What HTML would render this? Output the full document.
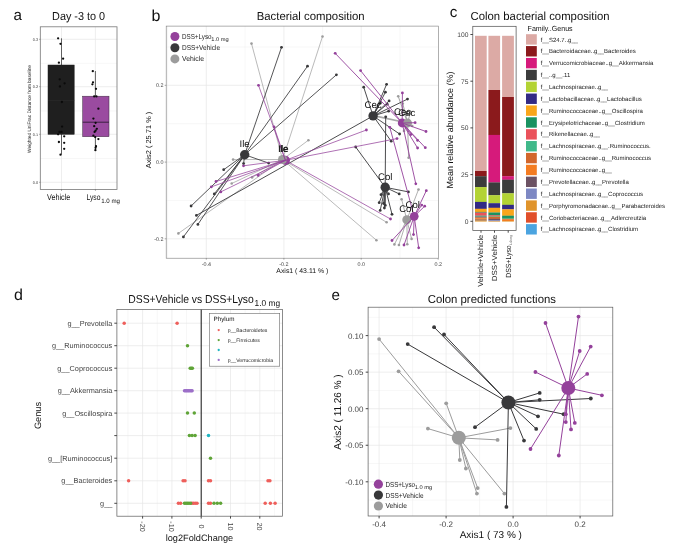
<!DOCTYPE html>
<html><head><meta charset="utf-8"><title>Figure</title>
<style>
html,body{margin:0;padding:0;background:#fff;}
body{width:694px;height:552px;overflow:hidden;font-family:"Liberation Sans",sans-serif;}
svg{display:block;font-family:"Liberation Sans",sans-serif;will-change:transform;}
text{text-rendering:geometricPrecision;}
</style></head><body>
<svg width="694" height="552" viewBox="0 0 694 552">
<rect x="0" y="0" width="694" height="552" fill="#ffffff"/>
<rect x="40.3" y="26.8" width="76.7" height="162.6" fill="#ffffff" stroke="none" stroke-width="1"/>
<line x1="40.3" y1="63.30000000000001" x2="117.0" y2="63.30000000000001" stroke="#efefef" stroke-width="0.5" />
<line x1="40.3" y1="110.90000000000002" x2="117.0" y2="110.90000000000002" stroke="#efefef" stroke-width="0.5" />
<line x1="40.3" y1="158.5" x2="117.0" y2="158.5" stroke="#efefef" stroke-width="0.5" />
<line x1="40.3" y1="39.3" x2="117.0" y2="39.3" stroke="#e6e6e6" stroke-width="0.7" />
<line x1="40.3" y1="86.7" x2="117.0" y2="86.7" stroke="#e6e6e6" stroke-width="0.7" />
<line x1="40.3" y1="134.3" x2="117.0" y2="134.3" stroke="#e6e6e6" stroke-width="0.7" />
<line x1="40.3" y1="182.3" x2="117.0" y2="182.3" stroke="#e6e6e6" stroke-width="0.7" />
<line x1="61.5" y1="26.8" x2="61.5" y2="189.4" stroke="#e6e6e6" stroke-width="0.7" />
<line x1="95.4" y1="26.8" x2="95.4" y2="189.4" stroke="#e6e6e6" stroke-width="0.7" />
<line x1="61.5" y1="38.3" x2="61.5" y2="154.5" stroke="#222" stroke-width="0.7" />
<line x1="95.4" y1="71.0" x2="95.4" y2="150.4" stroke="#222" stroke-width="0.7" />
<rect x="48.0" y="65.0" width="26.2" height="69.3" fill="#1f1f1f" stroke="#1f1f1f" stroke-width="0.5"/>
<rect x="82.7" y="96.2" width="26.3" height="40.5" fill="#9a4ba0" stroke="#3a2a3c" stroke-width="0.5"/>
<line x1="82.7" y1="122.2" x2="109.0" y2="122.2" stroke="#3a2040" stroke-width="1.0" />
<line x1="48.0" y1="100.4" x2="74.2" y2="100.4" stroke="#2e2e2e" stroke-width="0.6" />
<circle cx="58.1" cy="38.3" r="1.15" fill="#0a0a0a"/>
<circle cx="60.5" cy="43.8" r="1.15" fill="#0a0a0a"/>
<circle cx="63.1" cy="58.7" r="1.15" fill="#0a0a0a"/>
<circle cx="58.9" cy="62.7" r="1.15" fill="#0a0a0a"/>
<circle cx="59.7" cy="79.3" r="1.15" fill="#0a0a0a"/>
<circle cx="64.6" cy="83.3" r="1.15" fill="#0a0a0a"/>
<circle cx="59.9" cy="86.5" r="1.15" fill="#0a0a0a"/>
<circle cx="61.9" cy="102" r="1.15" fill="#0a0a0a"/>
<circle cx="62.1" cy="126.6" r="1.15" fill="#0a0a0a"/>
<circle cx="59.5" cy="131.9" r="1.15" fill="#0a0a0a"/>
<circle cx="61.5" cy="131.9" r="1.15" fill="#0a0a0a"/>
<circle cx="58.1" cy="134.3" r="1.15" fill="#0a0a0a"/>
<circle cx="64.2" cy="136.3" r="1.15" fill="#0a0a0a"/>
<circle cx="58.9" cy="142" r="1.15" fill="#0a0a0a"/>
<circle cx="64.2" cy="142.8" r="1.15" fill="#0a0a0a"/>
<circle cx="64.2" cy="148.8" r="1.15" fill="#0a0a0a"/>
<circle cx="60.5" cy="154.7" r="1.15" fill="#0a0a0a"/>
<circle cx="92.8" cy="71.2" r="1.15" fill="#0a0a0a"/>
<circle cx="93" cy="82.3" r="1.15" fill="#0a0a0a"/>
<circle cx="92.4" cy="84.3" r="1.15" fill="#0a0a0a"/>
<circle cx="96" cy="88.8" r="1.15" fill="#0a0a0a"/>
<circle cx="94.2" cy="96.4" r="1.15" fill="#0a0a0a"/>
<circle cx="96.4" cy="96.4" r="1.15" fill="#0a0a0a"/>
<circle cx="98.4" cy="108.7" r="1.15" fill="#0a0a0a"/>
<circle cx="93.4" cy="118.6" r="1.15" fill="#0a0a0a"/>
<circle cx="95.6" cy="122.8" r="1.15" fill="#0a0a0a"/>
<circle cx="94.2" cy="126.2" r="1.15" fill="#0a0a0a"/>
<circle cx="96.8" cy="128.8" r="1.15" fill="#0a0a0a"/>
<circle cx="95.6" cy="130.7" r="1.15" fill="#0a0a0a"/>
<circle cx="94.6" cy="131.9" r="1.15" fill="#0a0a0a"/>
<circle cx="93.4" cy="135.7" r="1.15" fill="#0a0a0a"/>
<circle cx="95.2" cy="137.1" r="1.15" fill="#0a0a0a"/>
<circle cx="98.4" cy="139.1" r="1.15" fill="#0a0a0a"/>
<circle cx="96" cy="146.2" r="1.15" fill="#0a0a0a"/>
<circle cx="95.6" cy="147.8" r="1.15" fill="#0a0a0a"/>
<circle cx="95.4" cy="150.2" r="1.15" fill="#0a0a0a"/>
<rect x="40.3" y="26.8" width="76.7" height="162.6" fill="none" stroke="#777" stroke-width="0.8"/>
<line x1="39.099999999999994" y1="39.3" x2="40.3" y2="39.3" stroke="#555" stroke-width="0.5" />
<text x="38.099999999999994" y="40.599999999999994" font-size="3.8" text-anchor="end" fill="#3a3a3a" >0.3</text>
<line x1="39.099999999999994" y1="86.7" x2="40.3" y2="86.7" stroke="#555" stroke-width="0.5" />
<text x="38.099999999999994" y="88.0" font-size="3.8" text-anchor="end" fill="#3a3a3a" >0.2</text>
<line x1="39.099999999999994" y1="134.3" x2="40.3" y2="134.3" stroke="#555" stroke-width="0.5" />
<text x="38.099999999999994" y="135.60000000000002" font-size="3.8" text-anchor="end" fill="#3a3a3a" >0.1</text>
<line x1="39.099999999999994" y1="182.3" x2="40.3" y2="182.3" stroke="#555" stroke-width="0.5" />
<text x="38.099999999999994" y="183.60000000000002" font-size="3.8" text-anchor="end" fill="#3a3a3a" >0.0</text>
<line x1="61.5" y1="189.4" x2="61.5" y2="190.9" stroke="#555" stroke-width="0.5" />
<line x1="95.4" y1="189.4" x2="95.4" y2="190.9" stroke="#555" stroke-width="0.5" />
<text x="31.2" y="109" font-size="4.9" text-anchor="middle" fill="#222" textLength="88" lengthAdjust="spacingAndGlyphs" transform="rotate(-90 31.2 109)" >Weighted UniFrac Distance from baseline</text>
<text x="13.4" y="20.4" font-size="15.2" text-anchor="start" fill="#111" >a</text>
<text x="78.6" y="20.0" font-size="11.6" text-anchor="middle" fill="#111" textLength="53" lengthAdjust="spacingAndGlyphs" >Day -3 to 0</text>
<text x="58.7" y="200.0" font-size="8.5" text-anchor="middle" fill="#111" textLength="23.4" lengthAdjust="spacingAndGlyphs" >Vehicle</text>
<text x="86.5" y="200.0" font-size="8.5" text-anchor="start" fill="#111" textLength="14.0" lengthAdjust="spacingAndGlyphs" >Lyso</text>
<text x="101.2" y="203.0" font-size="6.3" text-anchor="start" fill="#111" textLength="18.8" lengthAdjust="spacingAndGlyphs" >1.0 mg</text>
<rect x="166.2" y="26.1" width="272.1" height="232.1" fill="#ffffff" stroke="none" stroke-width="1"/>
<line x1="167.6" y1="26.1" x2="167.6" y2="258.2" stroke="#efefef" stroke-width="0.5" />
<line x1="245.1" y1="26.1" x2="245.1" y2="258.2" stroke="#efefef" stroke-width="0.5" />
<line x1="322.6" y1="26.1" x2="322.6" y2="258.2" stroke="#efefef" stroke-width="0.5" />
<line x1="400.0" y1="26.1" x2="400.0" y2="258.2" stroke="#efefef" stroke-width="0.5" />
<line x1="166.2" y1="47.0" x2="438.3" y2="47.0" stroke="#efefef" stroke-width="0.5" />
<line x1="166.2" y1="123.7" x2="438.3" y2="123.7" stroke="#efefef" stroke-width="0.5" />
<line x1="166.2" y1="200.4" x2="438.3" y2="200.4" stroke="#efefef" stroke-width="0.5" />
<line x1="206.3" y1="26.1" x2="206.3" y2="258.2" stroke="#e6e6e6" stroke-width="0.7" />
<line x1="283.9" y1="26.1" x2="283.9" y2="258.2" stroke="#e6e6e6" stroke-width="0.7" />
<line x1="361.2" y1="26.1" x2="361.2" y2="258.2" stroke="#e6e6e6" stroke-width="0.7" />
<line x1="166.2" y1="85.3" x2="438.3" y2="85.3" stroke="#e6e6e6" stroke-width="0.7" />
<line x1="166.2" y1="162.1" x2="438.3" y2="162.1" stroke="#e6e6e6" stroke-width="0.7" />
<line x1="166.2" y1="238.8" x2="438.3" y2="238.8" stroke="#e6e6e6" stroke-width="0.7" />
<line x1="282.6" y1="159.5" x2="233.1" y2="159.6" stroke="#9c9c9c" stroke-width="0.7" />
<line x1="282.6" y1="159.5" x2="252.1" y2="177.5" stroke="#9c9c9c" stroke-width="0.7" />
<line x1="282.6" y1="159.5" x2="231.7" y2="183.5" stroke="#9c9c9c" stroke-width="0.7" />
<line x1="282.6" y1="159.5" x2="178.4" y2="233.4" stroke="#9c9c9c" stroke-width="0.7" />
<line x1="282.6" y1="159.5" x2="251.5" y2="43.6" stroke="#9c9c9c" stroke-width="0.7" />
<line x1="282.6" y1="159.5" x2="322.5" y2="36.5" stroke="#9c9c9c" stroke-width="0.7" />
<line x1="282.6" y1="159.5" x2="308.4" y2="140.2" stroke="#9c9c9c" stroke-width="0.7" />
<line x1="282.6" y1="159.5" x2="386.6" y2="222.3" stroke="#9c9c9c" stroke-width="0.7" />
<line x1="282.6" y1="159.5" x2="376.4" y2="240.2" stroke="#9c9c9c" stroke-width="0.7" />
<circle cx="233.1" cy="159.6" r="1.3" fill="#9c9c9c"/>
<circle cx="252.1" cy="177.5" r="1.3" fill="#9c9c9c"/>
<circle cx="231.7" cy="183.5" r="1.3" fill="#9c9c9c"/>
<circle cx="178.4" cy="233.4" r="1.3" fill="#9c9c9c"/>
<circle cx="251.5" cy="43.6" r="1.3" fill="#9c9c9c"/>
<circle cx="322.5" cy="36.5" r="1.3" fill="#9c9c9c"/>
<circle cx="308.4" cy="140.2" r="1.3" fill="#9c9c9c"/>
<circle cx="386.6" cy="222.3" r="1.3" fill="#9c9c9c"/>
<circle cx="376.4" cy="240.2" r="1.3" fill="#9c9c9c"/>
<line x1="407.6" y1="123.0" x2="398.2" y2="96.2" stroke="#9c9c9c" stroke-width="0.9" />
<line x1="407.6" y1="123.0" x2="402.8" y2="103.5" stroke="#9c9c9c" stroke-width="0.9" />
<line x1="407.6" y1="123.0" x2="412.2" y2="126.0" stroke="#9c9c9c" stroke-width="0.9" />
<line x1="407.6" y1="123.0" x2="408.6" y2="157.8" stroke="#9c9c9c" stroke-width="0.9" />
<line x1="407.6" y1="123.0" x2="410.5" y2="112.0" stroke="#9c9c9c" stroke-width="0.9" />
<line x1="407.6" y1="123.0" x2="404.0" y2="131.0" stroke="#9c9c9c" stroke-width="0.9" />
<circle cx="398.2" cy="96.2" r="1.3" fill="#9c9c9c"/>
<circle cx="402.8" cy="103.5" r="1.3" fill="#9c9c9c"/>
<circle cx="412.2" cy="126.0" r="1.3" fill="#9c9c9c"/>
<circle cx="408.6" cy="157.8" r="1.3" fill="#9c9c9c"/>
<circle cx="410.5" cy="112.0" r="1.3" fill="#9c9c9c"/>
<circle cx="404.0" cy="131.0" r="1.3" fill="#9c9c9c"/>
<line x1="407.6" y1="123.0" x2="377.0" y2="116.4" stroke="#a8a8a8" stroke-width="1.7" />
<line x1="406.8" y1="219.8" x2="401.6" y2="199.2" stroke="#9c9c9c" stroke-width="0.8" />
<line x1="406.8" y1="219.8" x2="418.5" y2="189.5" stroke="#9c9c9c" stroke-width="0.8" />
<line x1="406.8" y1="219.8" x2="411.6" y2="238.9" stroke="#9c9c9c" stroke-width="0.8" />
<line x1="406.8" y1="219.8" x2="407.3" y2="244.2" stroke="#9c9c9c" stroke-width="0.8" />
<line x1="406.8" y1="219.8" x2="398.9" y2="245.0" stroke="#9c9c9c" stroke-width="0.8" />
<line x1="406.8" y1="219.8" x2="394.4" y2="244.4" stroke="#9c9c9c" stroke-width="0.8" />
<circle cx="401.6" cy="199.2" r="1.3" fill="#9c9c9c"/>
<circle cx="418.5" cy="189.5" r="1.3" fill="#9c9c9c"/>
<circle cx="411.6" cy="238.9" r="1.3" fill="#9c9c9c"/>
<circle cx="407.3" cy="244.2" r="1.3" fill="#9c9c9c"/>
<circle cx="398.9" cy="245.0" r="1.3" fill="#9c9c9c"/>
<circle cx="394.4" cy="244.4" r="1.3" fill="#9c9c9c"/>
<line x1="244.7" y1="154.7" x2="281.5" y2="47.3" stroke="#38383a" stroke-width="0.85" />
<line x1="244.7" y1="154.7" x2="307.5" y2="66.2" stroke="#38383a" stroke-width="0.85" />
<line x1="244.7" y1="154.7" x2="336.4" y2="74.8" stroke="#38383a" stroke-width="0.85" />
<line x1="244.7" y1="154.7" x2="268.6" y2="163.1" stroke="#38383a" stroke-width="0.85" />
<line x1="244.7" y1="154.7" x2="223.7" y2="169.7" stroke="#38383a" stroke-width="0.85" />
<line x1="244.7" y1="154.7" x2="214.3" y2="193.9" stroke="#38383a" stroke-width="0.85" />
<line x1="244.7" y1="154.7" x2="191.1" y2="206.0" stroke="#38383a" stroke-width="0.85" />
<line x1="244.7" y1="154.7" x2="197.9" y2="224.4" stroke="#38383a" stroke-width="0.85" />
<line x1="244.7" y1="154.7" x2="183.4" y2="236.9" stroke="#38383a" stroke-width="0.85" />
<line x1="244.7" y1="154.7" x2="243.6" y2="163.6" stroke="#38383a" stroke-width="0.85" />
<circle cx="281.5" cy="47.3" r="1.4" fill="#38383a"/>
<circle cx="307.5" cy="66.2" r="1.4" fill="#38383a"/>
<circle cx="336.4" cy="74.8" r="1.4" fill="#38383a"/>
<circle cx="268.6" cy="163.1" r="1.4" fill="#38383a"/>
<circle cx="223.7" cy="169.7" r="1.4" fill="#38383a"/>
<circle cx="214.3" cy="193.9" r="1.4" fill="#38383a"/>
<circle cx="191.1" cy="206.0" r="1.4" fill="#38383a"/>
<circle cx="197.9" cy="224.4" r="1.4" fill="#38383a"/>
<circle cx="183.4" cy="236.9" r="1.4" fill="#38383a"/>
<circle cx="243.6" cy="163.6" r="1.4" fill="#38383a"/>
<line x1="373.1" y1="115.9" x2="363.7" y2="87.2" stroke="#38383a" stroke-width="0.9" />
<line x1="373.1" y1="115.9" x2="386.6" y2="84.3" stroke="#38383a" stroke-width="0.9" />
<line x1="373.1" y1="115.9" x2="385.4" y2="92.2" stroke="#38383a" stroke-width="0.9" />
<line x1="373.1" y1="115.9" x2="389.1" y2="100.9" stroke="#38383a" stroke-width="0.9" />
<line x1="373.1" y1="115.9" x2="380.4" y2="103.0" stroke="#38383a" stroke-width="0.9" />
<line x1="373.1" y1="115.9" x2="387.2" y2="104.2" stroke="#38383a" stroke-width="0.9" />
<line x1="373.1" y1="115.9" x2="407.5" y2="99.1" stroke="#38383a" stroke-width="0.9" />
<line x1="373.1" y1="115.9" x2="388.6" y2="111.2" stroke="#38383a" stroke-width="0.9" />
<line x1="373.1" y1="115.9" x2="399.6" y2="134.0" stroke="#38383a" stroke-width="0.9" />
<line x1="373.1" y1="115.9" x2="391.2" y2="141.2" stroke="#38383a" stroke-width="0.9" />
<line x1="373.1" y1="115.9" x2="196.4" y2="215.4" stroke="#38383a" stroke-width="0.9" />
<circle cx="363.7" cy="87.2" r="1.4" fill="#38383a"/>
<circle cx="386.6" cy="84.3" r="1.4" fill="#38383a"/>
<circle cx="385.4" cy="92.2" r="1.4" fill="#38383a"/>
<circle cx="389.1" cy="100.9" r="1.4" fill="#38383a"/>
<circle cx="380.4" cy="103.0" r="1.4" fill="#38383a"/>
<circle cx="387.2" cy="104.2" r="1.4" fill="#38383a"/>
<circle cx="407.5" cy="99.1" r="1.4" fill="#38383a"/>
<circle cx="388.6" cy="111.2" r="1.4" fill="#38383a"/>
<circle cx="399.6" cy="134.0" r="1.4" fill="#38383a"/>
<circle cx="391.2" cy="141.2" r="1.4" fill="#38383a"/>
<circle cx="196.4" cy="215.4" r="1.4" fill="#38383a"/>
<line x1="385.2" y1="187.3" x2="385.7" y2="116.8" stroke="#38383a" stroke-width="0.9" />
<line x1="385.2" y1="187.3" x2="355.7" y2="147.0" stroke="#38383a" stroke-width="0.9" />
<line x1="385.2" y1="187.3" x2="408.4" y2="191.9" stroke="#38383a" stroke-width="0.9" />
<line x1="385.2" y1="187.3" x2="399.2" y2="193.9" stroke="#38383a" stroke-width="0.9" />
<line x1="385.2" y1="187.3" x2="388.5" y2="193.9" stroke="#38383a" stroke-width="0.9" />
<line x1="385.2" y1="187.3" x2="381.0" y2="194.7" stroke="#38383a" stroke-width="0.9" />
<line x1="385.2" y1="187.3" x2="379.2" y2="202.7" stroke="#38383a" stroke-width="0.9" />
<line x1="385.2" y1="187.3" x2="385.3" y2="205.4" stroke="#38383a" stroke-width="0.9" />
<line x1="385.2" y1="187.3" x2="380.2" y2="210.4" stroke="#38383a" stroke-width="0.9" />
<line x1="385.2" y1="187.3" x2="392.0" y2="214.3" stroke="#38383a" stroke-width="0.9" />
<line x1="385.2" y1="187.3" x2="383.6" y2="203.5" stroke="#38383a" stroke-width="0.9" />
<line x1="385.2" y1="187.3" x2="384.4" y2="208.0" stroke="#38383a" stroke-width="0.9" />
<circle cx="385.7" cy="116.8" r="1.4" fill="#38383a"/>
<circle cx="355.7" cy="147.0" r="1.4" fill="#38383a"/>
<circle cx="408.4" cy="191.9" r="1.4" fill="#38383a"/>
<circle cx="399.2" cy="193.9" r="1.4" fill="#38383a"/>
<circle cx="388.5" cy="193.9" r="1.4" fill="#38383a"/>
<circle cx="381.0" cy="194.7" r="1.4" fill="#38383a"/>
<circle cx="379.2" cy="202.7" r="1.4" fill="#38383a"/>
<circle cx="385.3" cy="205.4" r="1.4" fill="#38383a"/>
<circle cx="380.2" cy="210.4" r="1.4" fill="#38383a"/>
<circle cx="392.0" cy="214.3" r="1.4" fill="#38383a"/>
<circle cx="383.6" cy="203.5" r="1.4" fill="#38383a"/>
<circle cx="384.4" cy="208.0" r="1.4" fill="#38383a"/>
<circle cx="285.4" cy="160.3" r="4.6" fill="#94419b"/>
<circle cx="282.6" cy="159.5" r="4.6" fill="#9c9c9c"/>
<line x1="285.4" y1="160.3" x2="243.5" y2="165.8" stroke="#94419b" stroke-width="0.75" />
<line x1="285.4" y1="160.3" x2="216.0" y2="181.5" stroke="#94419b" stroke-width="0.75" />
<line x1="285.4" y1="160.3" x2="211.3" y2="186.9" stroke="#94419b" stroke-width="0.75" />
<line x1="285.4" y1="160.3" x2="220.8" y2="191.9" stroke="#94419b" stroke-width="0.75" />
<line x1="285.4" y1="160.3" x2="258.1" y2="175.4" stroke="#94419b" stroke-width="0.75" />
<line x1="285.4" y1="160.3" x2="258.5" y2="85.3" stroke="#94419b" stroke-width="0.75" />
<line x1="285.4" y1="160.3" x2="274.0" y2="126.8" stroke="#94419b" stroke-width="0.75" />
<line x1="285.4" y1="160.3" x2="366.4" y2="130.0" stroke="#94419b" stroke-width="0.75" />
<line x1="285.4" y1="160.3" x2="397.0" y2="138.6" stroke="#94419b" stroke-width="0.75" />
<line x1="285.4" y1="160.3" x2="390.5" y2="219.0" stroke="#94419b" stroke-width="0.75" />
<circle cx="243.5" cy="165.8" r="1.4" fill="#94419b"/>
<circle cx="216.0" cy="181.5" r="1.4" fill="#94419b"/>
<circle cx="211.3" cy="186.9" r="1.4" fill="#94419b"/>
<circle cx="220.8" cy="191.9" r="1.4" fill="#94419b"/>
<circle cx="258.1" cy="175.4" r="1.4" fill="#94419b"/>
<circle cx="258.5" cy="85.3" r="1.4" fill="#94419b"/>
<circle cx="274.0" cy="126.8" r="1.4" fill="#94419b"/>
<circle cx="366.4" cy="130.0" r="1.4" fill="#94419b"/>
<circle cx="397.0" cy="138.6" r="1.4" fill="#94419b"/>
<circle cx="390.5" cy="219.0" r="1.4" fill="#94419b"/>
<circle cx="406.8" cy="219.8" r="4.5" fill="#9c9c9c"/>
<line x1="414.2" y1="216.3" x2="389.8" y2="127.3" stroke="#94419b" stroke-width="0.9" />
<line x1="414.2" y1="216.3" x2="426.3" y2="190.7" stroke="#94419b" stroke-width="0.9" />
<line x1="414.2" y1="216.3" x2="424.7" y2="206.2" stroke="#94419b" stroke-width="0.9" />
<line x1="414.2" y1="216.3" x2="421.7" y2="205.1" stroke="#94419b" stroke-width="0.9" />
<line x1="414.2" y1="216.3" x2="392.0" y2="240.5" stroke="#94419b" stroke-width="0.9" />
<line x1="414.2" y1="216.3" x2="404.0" y2="245.0" stroke="#94419b" stroke-width="0.9" />
<line x1="414.2" y1="216.3" x2="413.5" y2="234.6" stroke="#94419b" stroke-width="0.9" />
<line x1="414.2" y1="216.3" x2="418.7" y2="247.8" stroke="#94419b" stroke-width="0.9" />
<circle cx="389.8" cy="127.3" r="1.4" fill="#94419b"/>
<circle cx="426.3" cy="190.7" r="1.4" fill="#94419b"/>
<circle cx="424.7" cy="206.2" r="1.4" fill="#94419b"/>
<circle cx="421.7" cy="205.1" r="1.4" fill="#94419b"/>
<circle cx="392.0" cy="240.5" r="1.4" fill="#94419b"/>
<circle cx="404.0" cy="245.0" r="1.4" fill="#94419b"/>
<circle cx="413.5" cy="234.6" r="1.4" fill="#94419b"/>
<circle cx="418.7" cy="247.8" r="1.4" fill="#94419b"/>
<circle cx="244.7" cy="154.7" r="4.7" fill="#38383a"/>
<circle cx="373.1" cy="115.9" r="4.7" fill="#38383a"/>
<circle cx="402.2" cy="123.0" r="4.4" fill="#94419b"/>
<circle cx="407.6" cy="123.0" r="4.4" fill="#9c9c9c"/>
<circle cx="385.2" cy="187.3" r="4.7" fill="#38383a"/>
<circle cx="414.2" cy="216.3" r="4.4" fill="#94419b"/>
<line x1="402.2" y1="123.0" x2="335.2" y2="53.3" stroke="#94419b" stroke-width="0.9" />
<line x1="402.2" y1="123.0" x2="360.6" y2="70.6" stroke="#94419b" stroke-width="0.9" />
<line x1="402.2" y1="123.0" x2="402.4" y2="92.9" stroke="#94419b" stroke-width="0.9" />
<line x1="402.2" y1="123.0" x2="415.1" y2="122.7" stroke="#94419b" stroke-width="0.9" />
<line x1="402.2" y1="123.0" x2="426.0" y2="131.5" stroke="#94419b" stroke-width="0.9" />
<line x1="402.2" y1="123.0" x2="410.8" y2="134.6" stroke="#94419b" stroke-width="0.9" />
<line x1="402.2" y1="123.0" x2="417.6" y2="140.4" stroke="#94419b" stroke-width="0.9" />
<line x1="402.2" y1="123.0" x2="417.6" y2="148.0" stroke="#94419b" stroke-width="0.9" />
<line x1="402.2" y1="123.0" x2="425.3" y2="147.7" stroke="#94419b" stroke-width="0.9" />
<line x1="402.2" y1="123.0" x2="415.8" y2="183.8" stroke="#94419b" stroke-width="0.9" />
<circle cx="335.2" cy="53.3" r="1.4" fill="#94419b"/>
<circle cx="360.6" cy="70.6" r="1.4" fill="#94419b"/>
<circle cx="402.4" cy="92.9" r="1.4" fill="#94419b"/>
<circle cx="415.1" cy="122.7" r="1.4" fill="#94419b"/>
<circle cx="426.0" cy="131.5" r="1.4" fill="#94419b"/>
<circle cx="410.8" cy="134.6" r="1.4" fill="#94419b"/>
<circle cx="417.6" cy="140.4" r="1.4" fill="#94419b"/>
<circle cx="417.6" cy="148.0" r="1.4" fill="#94419b"/>
<circle cx="425.3" cy="147.7" r="1.4" fill="#94419b"/>
<circle cx="415.8" cy="183.8" r="1.4" fill="#94419b"/>
<text x="244.6" y="146.8" font-size="9.6" text-anchor="middle" fill="#111" >Ile</text>
<text x="283.0" y="151.5" font-size="9.6" text-anchor="middle" fill="#111" >Ile</text>
<text x="283.6" y="151.7" font-size="9.6" text-anchor="middle" fill="#111" >Ile</text>
<text x="373.0" y="107.5" font-size="9.6" text-anchor="middle" fill="#111" >Cec</text>
<text x="402.6" y="115.3" font-size="9.6" text-anchor="middle" fill="#111" >Cec</text>
<text x="406.8" y="115.8" font-size="9.6" text-anchor="middle" fill="#111" >Cec</text>
<text x="385.2" y="179.5" font-size="9.6" text-anchor="middle" fill="#111" >Col</text>
<text x="406.4" y="211.9" font-size="9.6" text-anchor="middle" fill="#111" >Col</text>
<text x="412.8" y="208.0" font-size="9.6" text-anchor="middle" fill="#111" >Col</text>
<rect x="166.2" y="26.1" width="272.1" height="232.1" fill="none" stroke="#7a7a7a" stroke-width="0.6"/>
<line x1="206.3" y1="258.2" x2="206.3" y2="259.7" stroke="#555" stroke-width="0.5" />
<text x="206.3" y="266.0" font-size="5.4" text-anchor="middle" fill="#444" >-0.4</text>
<line x1="283.9" y1="258.2" x2="283.9" y2="259.7" stroke="#555" stroke-width="0.5" />
<text x="283.9" y="266.0" font-size="5.4" text-anchor="middle" fill="#444" >-0.2</text>
<line x1="361.2" y1="258.2" x2="361.2" y2="259.7" stroke="#555" stroke-width="0.5" />
<text x="361.2" y="266.0" font-size="5.4" text-anchor="middle" fill="#444" >0.0</text>
<line x1="438.2" y1="258.2" x2="438.2" y2="259.7" stroke="#555" stroke-width="0.5" />
<text x="438.2" y="266.0" font-size="5.4" text-anchor="middle" fill="#444" >0.2</text>
<line x1="164.7" y1="85.3" x2="166.2" y2="85.3" stroke="#555" stroke-width="0.5" />
<text x="163.6" y="87.2" font-size="5.4" text-anchor="end" fill="#444" >0.2</text>
<line x1="164.7" y1="162.1" x2="166.2" y2="162.1" stroke="#555" stroke-width="0.5" />
<text x="163.6" y="164.0" font-size="5.4" text-anchor="end" fill="#444" >0.0</text>
<line x1="164.7" y1="238.8" x2="166.2" y2="238.8" stroke="#555" stroke-width="0.5" />
<text x="163.6" y="240.70000000000002" font-size="5.4" text-anchor="end" fill="#444" >-0.2</text>
<text x="302.3" y="273.4" font-size="6.8" text-anchor="middle" fill="#111" textLength="52" lengthAdjust="spacingAndGlyphs" >Axis1 ( 43.11 % )</text>
<text x="151.0" y="140" font-size="7.2" text-anchor="middle" fill="#111" textLength="56.6" lengthAdjust="spacingAndGlyphs" transform="rotate(-90 151.0 140)" >Axis2 ( 25.71 % )</text>
<text x="151.4" y="20.6" font-size="16" text-anchor="start" fill="#111" >b</text>
<text x="310.7" y="19.6" font-size="11.6" text-anchor="middle" fill="#111" textLength="108" lengthAdjust="spacingAndGlyphs" >Bacterial composition</text>
<circle cx="174.9" cy="36.5" r="4.5" fill="#94419b"/>
<circle cx="174.9" cy="47.7" r="4.5" fill="#38383a"/>
<circle cx="174.9" cy="58.9" r="4.5" fill="#9c9c9c"/>
<text x="182.0" y="39.0" font-size="7.2" text-anchor="start" fill="#222" textLength="29.5" lengthAdjust="spacingAndGlyphs" >DSS+Lyso</text>
<text x="211.3" y="40.9" font-size="5.3" text-anchor="start" fill="#222" textLength="17.5" lengthAdjust="spacingAndGlyphs" >1.0 mg</text>
<text x="182.0" y="50.2" font-size="7.2" text-anchor="start" fill="#222" textLength="38" lengthAdjust="spacingAndGlyphs" >DSS+Vehicle</text>
<text x="182.0" y="60.8" font-size="7.2" text-anchor="start" fill="#222" textLength="22" lengthAdjust="spacingAndGlyphs" >Vehicle</text>
<rect x="472.8" y="26.3" width="43.30000000000001" height="204.2" fill="#ffffff" stroke="none" stroke-width="1"/>
<rect x="475.0" y="35.8" width="11.7" height="135.35" fill="#dcaaa5" stroke="none" stroke-width="1"/>
<rect x="475.0" y="171.0" width="11.7" height="5.349999999999989" fill="#8b1a1c" stroke="none" stroke-width="1"/>
<rect x="475.0" y="176.2" width="11.7" height="11.050000000000006" fill="#3c3c3c" stroke="none" stroke-width="1"/>
<rect x="475.0" y="187.1" width="11.7" height="14.950000000000012" fill="#b3d334" stroke="none" stroke-width="1"/>
<rect x="475.0" y="201.9" width="11.7" height="7.050000000000006" fill="#322a85" stroke="none" stroke-width="1"/>
<rect x="475.0" y="208.8" width="11.7" height="3.2499999999999942" fill="#f9a61b" stroke="none" stroke-width="1"/>
<rect x="475.0" y="211.9" width="11.7" height="0.8499999999999887" fill="#1a9261" stroke="none" stroke-width="1"/>
<rect x="475.0" y="212.6" width="11.7" height="3.2499999999999942" fill="#ea525b" stroke="none" stroke-width="1"/>
<rect x="475.0" y="215.7" width="11.7" height="1.0500000000000056" fill="#40b98a" stroke="none" stroke-width="1"/>
<rect x="475.0" y="216.6" width="11.7" height="1.0500000000000056" fill="#6c5263" stroke="none" stroke-width="1"/>
<rect x="475.0" y="217.5" width="11.7" height="1.0500000000000056" fill="#d2662b" stroke="none" stroke-width="1"/>
<rect x="475.0" y="218.4" width="11.7" height="1.3499999999999885" fill="#f47c21" stroke="none" stroke-width="1"/>
<rect x="475.0" y="219.6" width="11.7" height="1.0500000000000056" fill="#6c5263" stroke="none" stroke-width="1"/>
<rect x="475.0" y="220.5" width="11.7" height="1.0500000000000056" fill="#e0942c" stroke="none" stroke-width="1"/>
<rect x="488.4" y="35.8" width="11.7" height="54.35" fill="#dcaaa5" stroke="none" stroke-width="1"/>
<rect x="488.4" y="90.0" width="11.7" height="45.050000000000004" fill="#8b1a1c" stroke="none" stroke-width="1"/>
<rect x="488.4" y="134.9" width="11.7" height="47.65" fill="#d61a7b" stroke="none" stroke-width="1"/>
<rect x="488.4" y="182.4" width="11.7" height="12.949999999999983" fill="#3c3c3c" stroke="none" stroke-width="1"/>
<rect x="488.4" y="195.2" width="11.7" height="8.15" fill="#b3d334" stroke="none" stroke-width="1"/>
<rect x="488.4" y="203.2" width="11.7" height="4.750000000000023" fill="#322a85" stroke="none" stroke-width="1"/>
<rect x="488.4" y="207.8" width="11.7" height="4.849999999999989" fill="#f9a61b" stroke="none" stroke-width="1"/>
<rect x="488.4" y="212.5" width="11.7" height="2.7499999999999942" fill="#1a9261" stroke="none" stroke-width="1"/>
<rect x="488.4" y="215.1" width="11.7" height="0.8500000000000171" fill="#ea525b" stroke="none" stroke-width="1"/>
<rect x="488.4" y="215.8" width="11.7" height="0.949999999999983" fill="#40b98a" stroke="none" stroke-width="1"/>
<rect x="488.4" y="216.6" width="11.7" height="2.350000000000017" fill="#d2662b" stroke="none" stroke-width="1"/>
<rect x="488.4" y="218.8" width="11.7" height="1.7499999999999942" fill="#6c5263" stroke="none" stroke-width="1"/>
<rect x="488.4" y="220.4" width="11.7" height="0.7499999999999943" fill="#7d88c3" stroke="none" stroke-width="1"/>
<rect x="488.4" y="221.0" width="11.7" height="0.5500000000000057" fill="#e0942c" stroke="none" stroke-width="1"/>
<rect x="502.1" y="35.8" width="11.8" height="61.35" fill="#dcaaa5" stroke="none" stroke-width="1"/>
<rect x="502.1" y="97.0" width="11.8" height="79.35" fill="#8b1a1c" stroke="none" stroke-width="1"/>
<rect x="502.1" y="176.2" width="11.8" height="3.65" fill="#d61a7b" stroke="none" stroke-width="1"/>
<rect x="502.1" y="179.7" width="11.8" height="13.750000000000023" fill="#3c3c3c" stroke="none" stroke-width="1"/>
<rect x="502.1" y="193.3" width="11.8" height="11.65" fill="#b3d334" stroke="none" stroke-width="1"/>
<rect x="502.1" y="204.8" width="11.8" height="4.65" fill="#322a85" stroke="none" stroke-width="1"/>
<rect x="502.1" y="209.3" width="11.8" height="6.549999999999978" fill="#f9a61b" stroke="none" stroke-width="1"/>
<rect x="502.1" y="215.7" width="11.8" height="2.350000000000017" fill="#1a9261" stroke="none" stroke-width="1"/>
<rect x="502.1" y="217.9" width="11.8" height="1.0500000000000056" fill="#40b98a" stroke="none" stroke-width="1"/>
<rect x="502.1" y="218.8" width="11.8" height="0.949999999999983" fill="#d2662b" stroke="none" stroke-width="1"/>
<rect x="502.1" y="219.6" width="11.8" height="1.4500000000000113" fill="#f47c21" stroke="none" stroke-width="1"/>
<rect x="502.1" y="220.9" width="11.8" height="0.65" fill="#e0942c" stroke="none" stroke-width="1"/>
<rect x="472.8" y="26.3" width="43.30000000000001" height="204.2" fill="none" stroke="#4a4a4a" stroke-width="0.7"/>
<line x1="470.40000000000003" y1="34.5" x2="472.8" y2="34.5" stroke="#333" stroke-width="0.9" />
<text x="468.40000000000003" y="36.9" font-size="6.7" text-anchor="end" fill="#444444" >100</text>
<line x1="470.40000000000003" y1="81.2" x2="472.8" y2="81.2" stroke="#333" stroke-width="0.9" />
<text x="468.40000000000003" y="83.60000000000001" font-size="6.7" text-anchor="end" fill="#444444" >75</text>
<line x1="470.40000000000003" y1="127.9" x2="472.8" y2="127.9" stroke="#333" stroke-width="0.9" />
<text x="468.40000000000003" y="130.3" font-size="6.7" text-anchor="end" fill="#444444" >50</text>
<line x1="470.40000000000003" y1="174.6" x2="472.8" y2="174.6" stroke="#333" stroke-width="0.9" />
<text x="468.40000000000003" y="177.0" font-size="6.7" text-anchor="end" fill="#444444" >25</text>
<line x1="470.40000000000003" y1="221.3" x2="472.8" y2="221.3" stroke="#333" stroke-width="0.9" />
<text x="468.40000000000003" y="223.70000000000002" font-size="6.7" text-anchor="end" fill="#444444" >0</text>
<line x1="481.0" y1="230.5" x2="481.0" y2="232.7" stroke="#333" stroke-width="0.9" />
<line x1="494.5" y1="230.5" x2="494.5" y2="232.7" stroke="#333" stroke-width="0.9" />
<line x1="508.2" y1="230.5" x2="508.2" y2="232.7" stroke="#333" stroke-width="0.9" />
<text x="453.0" y="130" font-size="9.0" text-anchor="middle" fill="#111" textLength="117" lengthAdjust="spacingAndGlyphs" transform="rotate(-90 453.0 130)" >Mean relative abundance (%)</text>
<text x="483.4" y="234.8" font-size="7.4" text-anchor="end" fill="#222" textLength="52" lengthAdjust="spacingAndGlyphs" transform="rotate(-90 483.4 234.8)" >Vehicle+Vehicle</text>
<text x="496.9" y="234.8" font-size="7.4" text-anchor="end" fill="#222" textLength="46.5" lengthAdjust="spacingAndGlyphs" transform="rotate(-90 496.9 234.8)" >DSS+Vehicle</text>
<g transform="rotate(-90 510.7 234.8)">
<text x="500.2" y="234.8" font-size="7.4" text-anchor="end" fill="#222" textLength="32.5" lengthAdjust="spacingAndGlyphs" >DSS+Lyso</text>
<text x="500.5" y="236.4" font-size="3.4" text-anchor="start" fill="#333" textLength="10" lengthAdjust="spacingAndGlyphs" >1.0 mg</text>
</g>
<text x="449.8" y="17.2" font-size="15.2" text-anchor="start" fill="#111" >c</text>
<text x="470.6" y="19.6" font-size="11.6" text-anchor="start" fill="#111" textLength="139" lengthAdjust="spacingAndGlyphs" >Colon bacterial composition</text>
<text x="527.6" y="30.6" font-size="7.4" text-anchor="start" fill="#111" textLength="45" lengthAdjust="spacingAndGlyphs" >Family..Genus</text>
<rect x="526.0" y="34.2" width="10.8" height="10.4" fill="#dcaaa5" stroke="none" stroke-width="1"/>
<text x="540.7" y="41.5" font-size="6.0" text-anchor="start" fill="#1a1a1a" >f__S24.7..g__</text>
<rect x="526.0" y="46.07" width="10.8" height="10.4" fill="#8b1a1c" stroke="none" stroke-width="1"/>
<text x="540.7" y="53.37" font-size="6.0" text-anchor="start" fill="#1a1a1a" >f__Bacteroidaceae..g__Bacteroides</text>
<rect x="526.0" y="57.940000000000005" width="10.8" height="10.4" fill="#d61a7b" stroke="none" stroke-width="1"/>
<text x="540.7" y="65.24000000000001" font-size="6.0" text-anchor="start" fill="#1a1a1a" >f__Verrucomicrobiaceae..g__Akkermansia</text>
<rect x="526.0" y="69.81" width="10.8" height="10.4" fill="#3c3c3c" stroke="none" stroke-width="1"/>
<text x="540.7" y="77.11000000000001" font-size="6.0" text-anchor="start" fill="#1a1a1a" >f__..g__.11</text>
<rect x="526.0" y="81.67999999999999" width="10.8" height="10.4" fill="#b3d334" stroke="none" stroke-width="1"/>
<text x="540.7" y="88.98" font-size="6.0" text-anchor="start" fill="#1a1a1a" >f__Lachnospiraceae..g__</text>
<rect x="526.0" y="93.54999999999998" width="10.8" height="10.4" fill="#322a85" stroke="none" stroke-width="1"/>
<text x="540.7" y="100.85" font-size="6.0" text-anchor="start" fill="#1a1a1a" >f__Lactobacillaceae..g__Lactobacillus</text>
<rect x="526.0" y="105.41999999999999" width="10.8" height="10.4" fill="#f9a61b" stroke="none" stroke-width="1"/>
<text x="540.7" y="112.72" font-size="6.0" text-anchor="start" fill="#1a1a1a" >f__Ruminococcaceae..g__Oscillospira</text>
<rect x="526.0" y="117.28999999999999" width="10.8" height="10.4" fill="#1a9261" stroke="none" stroke-width="1"/>
<text x="540.7" y="124.59" font-size="6.0" text-anchor="start" fill="#1a1a1a" >f__Erysipelotrichaceae..g__Clostridium</text>
<rect x="526.0" y="129.16" width="10.8" height="10.4" fill="#ea525b" stroke="none" stroke-width="1"/>
<text x="540.7" y="136.46" font-size="6.0" text-anchor="start" fill="#1a1a1a" >f__Rikenellaceae..g__</text>
<rect x="526.0" y="141.03" width="10.8" height="10.4" fill="#40b98a" stroke="none" stroke-width="1"/>
<text x="540.7" y="148.33" font-size="6.0" text-anchor="start" fill="#1a1a1a" >f__Lachnospiraceae..g__.Ruminococcus.</text>
<rect x="526.0" y="152.89999999999998" width="10.8" height="10.4" fill="#d2662b" stroke="none" stroke-width="1"/>
<text x="540.7" y="160.2" font-size="6.0" text-anchor="start" fill="#1a1a1a" >f__Ruminococcaceae..g__Ruminococcus</text>
<rect x="526.0" y="164.76999999999998" width="10.8" height="10.4" fill="#f47c21" stroke="none" stroke-width="1"/>
<text x="540.7" y="172.07" font-size="6.0" text-anchor="start" fill="#1a1a1a" >f__Ruminococcaceae..g__</text>
<rect x="526.0" y="176.64" width="10.8" height="10.4" fill="#6c5263" stroke="none" stroke-width="1"/>
<text x="540.7" y="183.94" font-size="6.0" text-anchor="start" fill="#1a1a1a" >f__Prevotellaceae..g__Prevotella</text>
<rect x="526.0" y="188.51" width="10.8" height="10.4" fill="#7d88c3" stroke="none" stroke-width="1"/>
<text x="540.7" y="195.81" font-size="6.0" text-anchor="start" fill="#1a1a1a" >f__Lachnospiraceae..g__Coprococcus</text>
<rect x="526.0" y="200.37999999999997" width="10.8" height="10.4" fill="#e0942c" stroke="none" stroke-width="1"/>
<text x="540.7" y="207.67999999999998" font-size="6.0" text-anchor="start" fill="#1a1a1a" >f__Porphyromonadaceae..g__Parabacteroides</text>
<rect x="526.0" y="212.24999999999997" width="10.8" height="10.4" fill="#e14f2a" stroke="none" stroke-width="1"/>
<text x="540.7" y="219.54999999999998" font-size="6.0" text-anchor="start" fill="#1a1a1a" >f__Coriobacteriaceae..g__Adlercreutzia</text>
<rect x="526.0" y="224.11999999999998" width="10.8" height="10.4" fill="#4ba4e0" stroke="none" stroke-width="1"/>
<text x="540.7" y="231.42" font-size="6.0" text-anchor="start" fill="#1a1a1a" >f__Lachnospiraceae..g__Clostridium</text>
<rect x="116.9" y="309.5" width="165.70000000000002" height="206.70000000000005" fill="#ffffff" stroke="none" stroke-width="1"/>
<line x1="127.94999999999999" y1="309.5" x2="127.94999999999999" y2="516.2" stroke="#efefef" stroke-width="0.5" />
<line x1="157.25" y1="309.5" x2="157.25" y2="516.2" stroke="#efefef" stroke-width="0.5" />
<line x1="186.54999999999998" y1="309.5" x2="186.54999999999998" y2="516.2" stroke="#efefef" stroke-width="0.5" />
<line x1="215.85" y1="309.5" x2="215.85" y2="516.2" stroke="#efefef" stroke-width="0.5" />
<line x1="245.14999999999998" y1="309.5" x2="245.14999999999998" y2="516.2" stroke="#efefef" stroke-width="0.5" />
<line x1="274.45" y1="309.5" x2="274.45" y2="516.2" stroke="#efefef" stroke-width="0.5" />
<line x1="142.6" y1="309.5" x2="142.6" y2="516.2" stroke="#e6e6e6" stroke-width="0.7" />
<line x1="171.89999999999998" y1="309.5" x2="171.89999999999998" y2="516.2" stroke="#e6e6e6" stroke-width="0.7" />
<line x1="230.5" y1="309.5" x2="230.5" y2="516.2" stroke="#e6e6e6" stroke-width="0.7" />
<line x1="259.8" y1="309.5" x2="259.8" y2="516.2" stroke="#e6e6e6" stroke-width="0.7" />
<line x1="116.9" y1="323.2" x2="282.6" y2="323.2" stroke="#e6e6e6" stroke-width="0.7" />
<line x1="116.9" y1="345.7" x2="282.6" y2="345.7" stroke="#e6e6e6" stroke-width="0.7" />
<line x1="116.9" y1="368.2" x2="282.6" y2="368.2" stroke="#e6e6e6" stroke-width="0.7" />
<line x1="116.9" y1="390.7" x2="282.6" y2="390.7" stroke="#e6e6e6" stroke-width="0.7" />
<line x1="116.9" y1="413.1" x2="282.6" y2="413.1" stroke="#e6e6e6" stroke-width="0.7" />
<line x1="116.9" y1="435.6" x2="282.6" y2="435.6" stroke="#e6e6e6" stroke-width="0.7" />
<line x1="116.9" y1="458.2" x2="282.6" y2="458.2" stroke="#e6e6e6" stroke-width="0.7" />
<line x1="116.9" y1="480.8" x2="282.6" y2="480.8" stroke="#e6e6e6" stroke-width="0.7" />
<line x1="116.9" y1="503.3" x2="282.6" y2="503.3" stroke="#e6e6e6" stroke-width="0.7" />
<line x1="201.2" y1="309.5" x2="201.2" y2="516.2" stroke="#111" stroke-width="1.0" />
<circle cx="124.2" cy="323.2" r="1.75" fill="#ee5f5b"/>
<circle cx="177.1" cy="323.2" r="1.75" fill="#ee5f5b"/>
<circle cx="187.5" cy="345.7" r="1.75" fill="#5fa437"/>
<circle cx="190.2" cy="368.2" r="1.75" fill="#5fa437"/>
<circle cx="191.4" cy="368.2" r="1.75" fill="#5fa437"/>
<circle cx="192.4" cy="368.2" r="1.75" fill="#5fa437"/>
<circle cx="184.5" cy="390.7" r="1.75" fill="#9c6fc8"/>
<circle cx="185.6" cy="390.7" r="1.75" fill="#9c6fc8"/>
<circle cx="186.7" cy="390.7" r="1.75" fill="#9c6fc8"/>
<circle cx="187.8" cy="390.7" r="1.75" fill="#9c6fc8"/>
<circle cx="188.9" cy="390.7" r="1.75" fill="#9c6fc8"/>
<circle cx="190.0" cy="390.7" r="1.75" fill="#9c6fc8"/>
<circle cx="191.1" cy="390.7" r="1.75" fill="#9c6fc8"/>
<circle cx="192.1" cy="390.7" r="1.75" fill="#9c6fc8"/>
<circle cx="187.5" cy="413.1" r="1.75" fill="#5fa437"/>
<circle cx="194.3" cy="413.1" r="1.75" fill="#5fa437"/>
<circle cx="189.4" cy="435.6" r="1.75" fill="#5fa437"/>
<circle cx="192.1" cy="435.6" r="1.75" fill="#5fa437"/>
<circle cx="195.1" cy="435.6" r="1.75" fill="#5fa437"/>
<circle cx="208.5" cy="435.6" r="1.75" fill="#1fb5c2"/>
<circle cx="210.5" cy="458.2" r="1.75" fill="#5fa437"/>
<circle cx="128.6" cy="480.8" r="1.75" fill="#ee5f5b"/>
<circle cx="183.1" cy="480.8" r="1.75" fill="#ee5f5b"/>
<circle cx="185.0" cy="480.8" r="1.75" fill="#ee5f5b"/>
<circle cx="208.5" cy="480.8" r="1.75" fill="#ee5f5b"/>
<circle cx="210.5" cy="480.8" r="1.75" fill="#ee5f5b"/>
<circle cx="268.0" cy="480.8" r="1.75" fill="#ee5f5b"/>
<circle cx="269.9" cy="480.8" r="1.75" fill="#ee5f5b"/>
<circle cx="178.4" cy="503.3" r="1.75" fill="#ee5f5b"/>
<circle cx="180.6" cy="503.3" r="1.75" fill="#ee5f5b"/>
<circle cx="191.8" cy="503.3" r="1.75" fill="#ee5f5b"/>
<circle cx="193.4" cy="503.3" r="1.75" fill="#ee5f5b"/>
<circle cx="195.2" cy="503.3" r="1.75" fill="#ee5f5b"/>
<circle cx="197.0" cy="503.3" r="1.75" fill="#ee5f5b"/>
<circle cx="208.5" cy="503.3" r="1.75" fill="#ee5f5b"/>
<circle cx="210.5" cy="503.3" r="1.75" fill="#ee5f5b"/>
<circle cx="265.2" cy="503.3" r="1.75" fill="#ee5f5b"/>
<circle cx="270.4" cy="503.3" r="1.75" fill="#ee5f5b"/>
<circle cx="275.1" cy="503.3" r="1.75" fill="#ee5f5b"/>
<circle cx="184.5" cy="503.3" r="1.75" fill="#5fa437"/>
<circle cx="186.0" cy="503.3" r="1.75" fill="#5fa437"/>
<circle cx="187.5" cy="503.3" r="1.75" fill="#5fa437"/>
<circle cx="189.0" cy="503.3" r="1.75" fill="#5fa437"/>
<circle cx="190.6" cy="503.3" r="1.75" fill="#5fa437"/>
<circle cx="214.0" cy="503.3" r="1.75" fill="#5fa437"/>
<circle cx="217.3" cy="503.3" r="1.75" fill="#5fa437"/>
<circle cx="220.6" cy="503.3" r="1.75" fill="#5fa437"/>
<rect x="116.9" y="309.5" width="165.70000000000002" height="206.70000000000005" fill="none" stroke="#5a5a5a" stroke-width="0.7"/>
<line x1="114.30000000000001" y1="323.2" x2="116.9" y2="323.2" stroke="#333" stroke-width="0.9" />
<text x="112.30000000000001" y="325.8" font-size="7.33" text-anchor="end" fill="#444444" >g__Prevotella</text>
<line x1="114.30000000000001" y1="345.7" x2="116.9" y2="345.7" stroke="#333" stroke-width="0.9" />
<text x="112.30000000000001" y="348.3" font-size="7.33" text-anchor="end" fill="#444444" >g__Ruminococcus</text>
<line x1="114.30000000000001" y1="368.2" x2="116.9" y2="368.2" stroke="#333" stroke-width="0.9" />
<text x="112.30000000000001" y="370.8" font-size="7.33" text-anchor="end" fill="#444444" >g__Coprococcus</text>
<line x1="114.30000000000001" y1="390.7" x2="116.9" y2="390.7" stroke="#333" stroke-width="0.9" />
<text x="112.30000000000001" y="393.3" font-size="7.33" text-anchor="end" fill="#444444" >g__Akkermansia</text>
<line x1="114.30000000000001" y1="413.1" x2="116.9" y2="413.1" stroke="#333" stroke-width="0.9" />
<text x="112.30000000000001" y="415.70000000000005" font-size="7.33" text-anchor="end" fill="#444444" >g__Oscillospira</text>
<line x1="114.30000000000001" y1="435.6" x2="116.9" y2="435.6" stroke="#333" stroke-width="0.9" />
<line x1="114.30000000000001" y1="458.2" x2="116.9" y2="458.2" stroke="#333" stroke-width="0.9" />
<text x="112.30000000000001" y="460.8" font-size="7.33" text-anchor="end" fill="#444444" >g__[Ruminococcus]</text>
<line x1="114.30000000000001" y1="480.8" x2="116.9" y2="480.8" stroke="#333" stroke-width="0.9" />
<text x="112.30000000000001" y="483.40000000000003" font-size="7.33" text-anchor="end" fill="#444444" >g__Bacteroides</text>
<line x1="114.30000000000001" y1="503.3" x2="116.9" y2="503.3" stroke="#333" stroke-width="0.9" />
<text x="112.30000000000001" y="505.90000000000003" font-size="7.33" text-anchor="end" fill="#444444" >g__</text>
<line x1="142.6" y1="516.2" x2="142.6" y2="518.6" stroke="#333" stroke-width="0.9" />
<text x="140.0" y="526.6" font-size="7.33" text-anchor="middle" fill="#444444" transform="rotate(90 140.0 526.6)" >-20</text>
<line x1="171.89999999999998" y1="516.2" x2="171.89999999999998" y2="518.6" stroke="#333" stroke-width="0.9" />
<text x="169.29999999999998" y="526.6" font-size="7.33" text-anchor="middle" fill="#444444" transform="rotate(90 169.29999999999998 526.6)" >-10</text>
<line x1="201.2" y1="516.2" x2="201.2" y2="518.6" stroke="#333" stroke-width="0.9" />
<text x="198.6" y="526.6" font-size="7.33" text-anchor="middle" fill="#444444" transform="rotate(90 198.6 526.6)" >0</text>
<line x1="230.5" y1="516.2" x2="230.5" y2="518.6" stroke="#333" stroke-width="0.9" />
<text x="227.9" y="526.6" font-size="7.33" text-anchor="middle" fill="#444444" transform="rotate(90 227.9 526.6)" >10</text>
<line x1="259.8" y1="516.2" x2="259.8" y2="518.6" stroke="#333" stroke-width="0.9" />
<text x="257.2" y="526.6" font-size="7.33" text-anchor="middle" fill="#444444" transform="rotate(90 257.2 526.6)" >20</text>
<text x="199.4" y="541.4" font-size="9.2" text-anchor="middle" fill="#111" textLength="67.5" lengthAdjust="spacingAndGlyphs" >log2FoldChange</text>
<text x="41.4" y="415.5" font-size="9.2" text-anchor="middle" fill="#111" transform="rotate(-90 41.4 415.5)" >Genus</text>
<text x="14.0" y="300.4" font-size="16" text-anchor="start" fill="#111" >d</text>
<text x="128.3" y="303.2" font-size="11.6" text-anchor="start" fill="#111" textLength="125.5" lengthAdjust="spacingAndGlyphs" >DSS+Vehicle vs DSS+Lyso</text>
<text x="254.6" y="305.6" font-size="8.6" text-anchor="start" fill="#111" textLength="25.5" lengthAdjust="spacingAndGlyphs" >1.0 mg</text>
<rect x="209.4" y="313.4" width="70.3" height="52.8" fill="#ffffff" stroke="#6a6a6a" stroke-width="0.6"/>
<text x="213.5" y="321.3" font-size="6.3" text-anchor="start" fill="#111" >Phylum</text>
<circle cx="218.7" cy="330.1" r="1.15" fill="#ee5f5b"/>
<text x="227.7" y="331.8" font-size="5.1" text-anchor="start" fill="#222" >p__Bacteroidetes</text>
<circle cx="218.7" cy="340.05" r="1.15" fill="#5fa437"/>
<text x="227.7" y="341.75" font-size="5.1" text-anchor="start" fill="#222" >p__Firmicutes</text>
<circle cx="218.7" cy="350.0" r="1.15" fill="#1fb5c2"/>
<circle cx="218.7" cy="359.95000000000005" r="1.15" fill="#9c6fc8"/>
<text x="227.7" y="361.65000000000003" font-size="5.1" text-anchor="start" fill="#222" >p__Verrucomicrobia</text>
<rect x="368.1" y="307.2" width="244.69999999999993" height="208.8" fill="#ffffff" stroke="none" stroke-width="1"/>
<line x1="412.6" y1="307.2" x2="412.6" y2="516.0" stroke="#efefef" stroke-width="0.5" />
<line x1="479.6" y1="307.2" x2="479.6" y2="516.0" stroke="#efefef" stroke-width="0.5" />
<line x1="546.6" y1="307.2" x2="546.6" y2="516.0" stroke="#efefef" stroke-width="0.5" />
<line x1="368.1" y1="317.325" x2="612.8" y2="317.325" stroke="#efefef" stroke-width="0.5" />
<line x1="368.1" y1="353.875" x2="612.8" y2="353.875" stroke="#efefef" stroke-width="0.5" />
<line x1="368.1" y1="390.425" x2="612.8" y2="390.425" stroke="#efefef" stroke-width="0.5" />
<line x1="368.1" y1="426.97499999999997" x2="612.8" y2="426.97499999999997" stroke="#efefef" stroke-width="0.5" />
<line x1="368.1" y1="463.525" x2="612.8" y2="463.525" stroke="#efefef" stroke-width="0.5" />
<line x1="368.1" y1="500.075" x2="612.8" y2="500.075" stroke="#efefef" stroke-width="0.5" />
<line x1="379.1" y1="307.2" x2="379.1" y2="516.0" stroke="#e6e6e6" stroke-width="0.7" />
<line x1="446.1" y1="307.2" x2="446.1" y2="516.0" stroke="#e6e6e6" stroke-width="0.7" />
<line x1="513.1" y1="307.2" x2="513.1" y2="516.0" stroke="#e6e6e6" stroke-width="0.7" />
<line x1="580.1" y1="307.2" x2="580.1" y2="516.0" stroke="#e6e6e6" stroke-width="0.7" />
<line x1="368.1" y1="335.59999999999997" x2="612.8" y2="335.59999999999997" stroke="#e6e6e6" stroke-width="0.7" />
<line x1="368.1" y1="372.15" x2="612.8" y2="372.15" stroke="#e6e6e6" stroke-width="0.7" />
<line x1="368.1" y1="408.7" x2="612.8" y2="408.7" stroke="#e6e6e6" stroke-width="0.7" />
<line x1="368.1" y1="445.25" x2="612.8" y2="445.25" stroke="#e6e6e6" stroke-width="0.7" />
<line x1="368.1" y1="481.8" x2="612.8" y2="481.8" stroke="#e6e6e6" stroke-width="0.7" />
<line x1="458.8" y1="437.8" x2="379.1" y2="339.1" stroke="#9c9c9c" stroke-width="1.0" />
<line x1="458.8" y1="437.8" x2="398.6" y2="371.3" stroke="#9c9c9c" stroke-width="1.0" />
<line x1="458.8" y1="437.8" x2="446.2" y2="403.3" stroke="#9c9c9c" stroke-width="1.0" />
<line x1="458.8" y1="437.8" x2="427.9" y2="428.6" stroke="#9c9c9c" stroke-width="1.0" />
<line x1="458.8" y1="437.8" x2="497.6" y2="439.9" stroke="#9c9c9c" stroke-width="1.0" />
<line x1="458.8" y1="437.8" x2="510.4" y2="428.1" stroke="#9c9c9c" stroke-width="1.0" />
<line x1="458.8" y1="437.8" x2="459.8" y2="460.0" stroke="#9c9c9c" stroke-width="1.0" />
<line x1="458.8" y1="437.8" x2="465.9" y2="468.5" stroke="#9c9c9c" stroke-width="1.0" />
<line x1="458.8" y1="437.8" x2="477.7" y2="488.1" stroke="#9c9c9c" stroke-width="1.0" />
<line x1="458.8" y1="437.8" x2="476.9" y2="493.6" stroke="#9c9c9c" stroke-width="1.0" />
<line x1="458.8" y1="437.8" x2="504.4" y2="493.6" stroke="#9c9c9c" stroke-width="1.0" />
<circle cx="379.1" cy="339.1" r="1.9" fill="#9c9c9c"/>
<circle cx="398.6" cy="371.3" r="1.9" fill="#9c9c9c"/>
<circle cx="446.2" cy="403.3" r="1.9" fill="#9c9c9c"/>
<circle cx="427.9" cy="428.6" r="1.9" fill="#9c9c9c"/>
<circle cx="497.6" cy="439.9" r="1.9" fill="#9c9c9c"/>
<circle cx="510.4" cy="428.1" r="1.9" fill="#9c9c9c"/>
<circle cx="459.8" cy="460.0" r="1.9" fill="#9c9c9c"/>
<circle cx="465.9" cy="468.5" r="1.9" fill="#9c9c9c"/>
<circle cx="477.7" cy="488.1" r="1.9" fill="#9c9c9c"/>
<circle cx="476.9" cy="493.6" r="1.9" fill="#9c9c9c"/>
<circle cx="504.4" cy="493.6" r="1.9" fill="#9c9c9c"/>
<line x1="508.4" y1="402.5" x2="434.1" y2="327.2" stroke="#38383a" stroke-width="1.0" />
<line x1="508.4" y1="402.5" x2="444.0" y2="334.5" stroke="#38383a" stroke-width="1.0" />
<line x1="508.4" y1="402.5" x2="407.7" y2="344.1" stroke="#38383a" stroke-width="1.0" />
<line x1="508.4" y1="402.5" x2="475.0" y2="427.2" stroke="#38383a" stroke-width="1.0" />
<line x1="508.4" y1="402.5" x2="539.7" y2="392.9" stroke="#38383a" stroke-width="1.0" />
<line x1="508.4" y1="402.5" x2="539.7" y2="399.8" stroke="#38383a" stroke-width="1.0" />
<line x1="508.4" y1="402.5" x2="590.8" y2="398.5" stroke="#38383a" stroke-width="1.0" />
<line x1="508.4" y1="402.5" x2="538.0" y2="416.3" stroke="#38383a" stroke-width="1.0" />
<line x1="508.4" y1="402.5" x2="563.6" y2="414.2" stroke="#38383a" stroke-width="1.0" />
<line x1="508.4" y1="402.5" x2="536.2" y2="428.9" stroke="#38383a" stroke-width="1.0" />
<line x1="508.4" y1="402.5" x2="524.0" y2="440.6" stroke="#38383a" stroke-width="1.0" />
<line x1="508.4" y1="402.5" x2="506.4" y2="506.9" stroke="#38383a" stroke-width="1.0" />
<circle cx="434.1" cy="327.2" r="1.9" fill="#38383a"/>
<circle cx="444.0" cy="334.5" r="1.9" fill="#38383a"/>
<circle cx="407.7" cy="344.1" r="1.9" fill="#38383a"/>
<circle cx="475.0" cy="427.2" r="1.9" fill="#38383a"/>
<circle cx="539.7" cy="392.9" r="1.9" fill="#38383a"/>
<circle cx="539.7" cy="399.8" r="1.9" fill="#38383a"/>
<circle cx="590.8" cy="398.5" r="1.9" fill="#38383a"/>
<circle cx="538.0" cy="416.3" r="1.9" fill="#38383a"/>
<circle cx="563.6" cy="414.2" r="1.9" fill="#38383a"/>
<circle cx="536.2" cy="428.9" r="1.9" fill="#38383a"/>
<circle cx="524.0" cy="440.6" r="1.9" fill="#38383a"/>
<circle cx="506.4" cy="506.9" r="1.9" fill="#38383a"/>
<line x1="568.3" y1="388.0" x2="545.5" y2="323.0" stroke="#94419b" stroke-width="1.0" />
<line x1="568.3" y1="388.0" x2="578.5" y2="316.6" stroke="#94419b" stroke-width="1.0" />
<line x1="568.3" y1="388.0" x2="590.7" y2="346.6" stroke="#94419b" stroke-width="1.0" />
<line x1="568.3" y1="388.0" x2="579.7" y2="351.0" stroke="#94419b" stroke-width="1.0" />
<line x1="568.3" y1="388.0" x2="587.2" y2="373.9" stroke="#94419b" stroke-width="1.0" />
<line x1="568.3" y1="388.0" x2="535.4" y2="372.0" stroke="#94419b" stroke-width="1.0" />
<line x1="568.3" y1="388.0" x2="601.9" y2="395.3" stroke="#94419b" stroke-width="1.0" />
<line x1="568.3" y1="388.0" x2="565.8" y2="414.2" stroke="#94419b" stroke-width="1.0" />
<line x1="568.3" y1="388.0" x2="565.8" y2="422.1" stroke="#94419b" stroke-width="1.0" />
<line x1="568.3" y1="388.0" x2="574.8" y2="422.9" stroke="#94419b" stroke-width="1.0" />
<line x1="568.3" y1="388.0" x2="571.0" y2="429.4" stroke="#94419b" stroke-width="1.0" />
<line x1="568.3" y1="388.0" x2="530.5" y2="449.0" stroke="#94419b" stroke-width="1.0" />
<line x1="568.3" y1="388.0" x2="558.8" y2="455.5" stroke="#94419b" stroke-width="1.0" />
<circle cx="545.5" cy="323.0" r="1.9" fill="#94419b"/>
<circle cx="578.5" cy="316.6" r="1.9" fill="#94419b"/>
<circle cx="590.7" cy="346.6" r="1.9" fill="#94419b"/>
<circle cx="579.7" cy="351.0" r="1.9" fill="#94419b"/>
<circle cx="587.2" cy="373.9" r="1.9" fill="#94419b"/>
<circle cx="535.4" cy="372.0" r="1.9" fill="#94419b"/>
<circle cx="601.9" cy="395.3" r="1.9" fill="#94419b"/>
<circle cx="565.8" cy="414.2" r="1.9" fill="#94419b"/>
<circle cx="565.8" cy="422.1" r="1.9" fill="#94419b"/>
<circle cx="574.8" cy="422.9" r="1.9" fill="#94419b"/>
<circle cx="571.0" cy="429.4" r="1.9" fill="#94419b"/>
<circle cx="530.5" cy="449.0" r="1.9" fill="#94419b"/>
<circle cx="558.8" cy="455.5" r="1.9" fill="#94419b"/>
<circle cx="458.8" cy="437.8" r="7.0" fill="#9c9c9c"/>
<circle cx="508.4" cy="402.5" r="7.0" fill="#38383a"/>
<circle cx="568.3" cy="388.0" r="7.0" fill="#94419b"/>
<rect x="368.1" y="307.2" width="244.69999999999993" height="208.8" fill="none" stroke="#5a5a5a" stroke-width="0.7"/>
<line x1="379.1" y1="516.0" x2="379.1" y2="518.4" stroke="#333" stroke-width="0.9" />
<text x="379.1" y="527.2" font-size="8.0" text-anchor="middle" fill="#444444" >-0.4</text>
<line x1="446.1" y1="516.0" x2="446.1" y2="518.4" stroke="#333" stroke-width="0.9" />
<text x="446.1" y="527.2" font-size="8.0" text-anchor="middle" fill="#444444" >-0.2</text>
<line x1="513.1" y1="516.0" x2="513.1" y2="518.4" stroke="#333" stroke-width="0.9" />
<text x="513.1" y="527.2" font-size="8.0" text-anchor="middle" fill="#444444" >0.0</text>
<line x1="580.1" y1="516.0" x2="580.1" y2="518.4" stroke="#333" stroke-width="0.9" />
<text x="580.1" y="527.2" font-size="8.0" text-anchor="middle" fill="#444444" >0.2</text>
<line x1="365.70000000000005" y1="335.59999999999997" x2="368.1" y2="335.59999999999997" stroke="#333" stroke-width="0.9" />
<text x="363.5" y="338.49999999999994" font-size="8.0" text-anchor="end" fill="#444444" >0.10</text>
<line x1="365.70000000000005" y1="372.15" x2="368.1" y2="372.15" stroke="#333" stroke-width="0.9" />
<text x="363.5" y="375.04999999999995" font-size="8.0" text-anchor="end" fill="#444444" >0.05</text>
<line x1="365.70000000000005" y1="408.7" x2="368.1" y2="408.7" stroke="#333" stroke-width="0.9" />
<text x="363.5" y="411.59999999999997" font-size="8.0" text-anchor="end" fill="#444444" >0.00</text>
<line x1="365.70000000000005" y1="445.25" x2="368.1" y2="445.25" stroke="#333" stroke-width="0.9" />
<text x="363.5" y="448.15" font-size="8.0" text-anchor="end" fill="#444444" >-0.05</text>
<line x1="365.70000000000005" y1="481.8" x2="368.1" y2="481.8" stroke="#333" stroke-width="0.9" />
<text x="363.5" y="484.7" font-size="8.0" text-anchor="end" fill="#444444" >-0.10</text>
<text x="490.8" y="538.4" font-size="10.0" text-anchor="middle" fill="#111" >Axis1 ( 73 % )</text>
<text x="341.4" y="412" font-size="10.0" text-anchor="middle" fill="#111" transform="rotate(-90 341.4 412)" >Axis2 ( 11.26 % )</text>
<text x="331.6" y="300.4" font-size="15.2" text-anchor="start" fill="#111" >e</text>
<text x="427.7" y="302.8" font-size="11.6" text-anchor="start" fill="#111" textLength="128.3" lengthAdjust="spacingAndGlyphs" >Colon predicted functions</text>
<circle cx="378.4" cy="484.2" r="4.6" fill="#94419b"/>
<circle cx="378.4" cy="495.09999999999997" r="4.6" fill="#38383a"/>
<circle cx="378.4" cy="506.0" r="4.6" fill="#9c9c9c"/>
<text x="385.5" y="486.6" font-size="7.2" text-anchor="start" fill="#222" textLength="29.5" lengthAdjust="spacingAndGlyphs" >DSS+Lyso</text>
<text x="414.8" y="488.6" font-size="5.4" text-anchor="start" fill="#222" textLength="17.5" lengthAdjust="spacingAndGlyphs" >1.0 mg</text>
<text x="385.5" y="497.6" font-size="7.2" text-anchor="start" fill="#222" textLength="38" lengthAdjust="spacingAndGlyphs" >DSS+Vehicle</text>
<text x="385.5" y="508.4" font-size="7.2" text-anchor="start" fill="#222" textLength="21.5" lengthAdjust="spacingAndGlyphs" >Vehicle</text>
</svg>
</body></html>
